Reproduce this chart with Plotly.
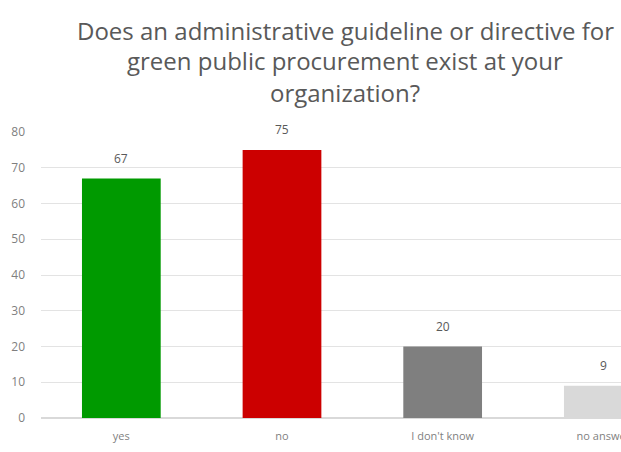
import plotly.graph_objects as go

categories = ["yes", "no", "I don't know", "no answer"]
counts = [67, 75, 20, 9]
bar_colors = ["#009a00", "#cc0000", "#7f7f7f", "#d9d9d9"]
y_ticks = [0, 10, 20, 30, 40, 50, 60, 70, 80]

title_lines = [
    "Does an administrative guideline or directive for",
    "green public procurement exist at your",
    "organization?",
]

W, H = 621, 452
L, R, T, B = 41, 0, 132, 34
plot_w = W - L - R
plot_h = H - T - B

fig = go.Figure(
    go.Bar(
        x=categories,
        y=counts,
        marker=dict(color=bar_colors, line=dict(width=0)),
        width=0.49,
        cliponaxis=False,
        hoverinfo="x+y",
    )
)

# value labels sitting above each bar
for cat, val in zip(categories, counts):
    fig.add_annotation(
        x=cat,
        y=val,
        text=str(val),
        showarrow=False,
        yanchor="middle",
        yshift=20,
        font=dict(family="Open Sans", size=12, color="#595959"),
    )

# three-line heading, one annotation per line (pixel rows 30, 61, 92)
for i, line in enumerate(title_lines):
    row = 30 + 31 * i
    fig.add_annotation(
        text=line,
        x=(345 - L) / plot_w,
        xref="paper",
        y=(H - B - row) / plot_h,
        yref="paper",
        xanchor="center",
        yanchor="middle",
        showarrow=False,
        font=dict(family="Open Sans", size=24, color="#595959"),
    )

fig.update_layout(
    width=W,
    height=H,
    margin=dict(l=L, r=R, t=T, b=B, autoexpand=False),
    plot_bgcolor="white",
    paper_bgcolor="white",
    showlegend=False,
    bargap=0.51,
)
fig.update_xaxes(
    range=[-0.5, 3.11],
    automargin=False,
    showgrid=False,
    showline=False,
    ticks="",
    ticklabelstandoff=10,
    tickfont=dict(family="Open Sans", size=11, color="#7f7f7f"),
)
fig.update_yaxes(
    range=[0, 80],
    tickvals=y_ticks,
    automargin=False,
    showgrid=True,
    gridcolor="#e3e3e3",
    gridwidth=1,
    zeroline=True,
    zerolinecolor="#d9d9d9",
    showline=False,
    ticks="",
    ticklabelstandoff=15,
    tickfont=dict(family="Open Sans", size=12, color="#7f7f7f"),
)

fig.write_html("out.html")
